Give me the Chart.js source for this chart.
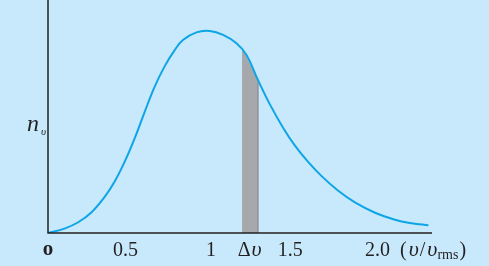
<!DOCTYPE html>
<html>
<head>
<meta charset="utf-8">
<script src="https://cdn.jsdelivr.net/npm/chart.js@4"></script>
<style>
  html, body { margin: 0; padding: 0; background: #c7e9fb; }
  #wrap { width: 489px; height: 266px; position: relative; }
</style>
</head>
<body>
<div id="wrap"><canvas id="chart"></canvas></div>
<script>
// speed (v / v_rms) and relative number n_v
const speeds = [0, 0.100, 0.181, 0.263, 0.343, 0.404, 0.465, 0.526, 0.587, 0.647, 0.707,
    0.769, 0.819, 0.901, 0.982, 1.063, 1.144, 1.205, 1.275, 1.347, 1.427, 1.498, 1.579, 1.661,
    1.762, 1.863, 1.985, 2.106, 2.208, 2.309];
const counts = [0, 0.019, 0.045, 0.088, 0.154, 0.220, 0.305, 0.406, 0.520, 0.627, 0.714,
    0.785, 0.828, 0.861, 0.867, 0.850, 0.814, 0.764, 0.656, 0.552, 0.452, 0.376, 0.305, 0.244,
    0.181, 0.131, 0.087, 0.057, 0.042, 0.033];

// the shaded slice dv
const sliceSpeeds = [1.178, 1.225, 1.275];
const sliceCounts = [0.794, 0.728, 0.656];

// tick labels along the speed axis
const tickAt = [0, 0.47, 0.99, 1.47, 2.0];
const tickLabels = ['o', '0.5', '1', '1.5', '2.0'];
const deltaAt = 1.23;

function toPoints(xs, ys) {
    return xs.map(function(x, i) { return { x: x, y: ys[i] }; });
}

const axesPlugin = {
    id: 'axes',
    afterDatasetsDraw: function(chart) {
        const ctx = chart.ctx;
        const area = chart.chartArea;
        const xs = chart.scales.x;
        const ys = chart.scales.y;
        ctx.save();

        // darker right edge of the slice
        const sx = xs.getPixelForValue(sliceSpeeds[sliceSpeeds.length - 1]);
        ctx.strokeStyle = '#7d7f83';
        ctx.lineWidth = 1;
        ctx.beginPath();
        ctx.moveTo(sx, ys.getPixelForValue(sliceCounts[sliceCounts.length - 1]) + 2);
        ctx.lineTo(sx, area.bottom);
        ctx.stroke();

        ctx.strokeStyle = '#231f20';
        ctx.lineWidth = 1.5;
        ctx.beginPath();
        ctx.moveTo(area.left, area.top);
        ctx.lineTo(area.left, area.bottom);
        ctx.lineTo(area.right, area.bottom);
        ctx.stroke();

        ctx.fillStyle = '#231f20';
        ctx.textAlign = 'center';
        ctx.textBaseline = 'alphabetic';
        const base = area.bottom + 23;
        tickAt.forEach(function(v, i) {
            ctx.font = i === 0 ? 'bold 21px "Liberation Serif"' : '20px "Liberation Serif"';
            ctx.fillText(tickLabels[i], xs.getPixelForValue(v), i === 0 ? base - 1 : base);
        });

        // delta v
        ctx.font = '20px "Liberation Serif"';
        ctx.textAlign = 'left';
        let x = xs.getPixelForValue(deltaAt) - 13;
        ctx.fillText('\u0394', x, base);
        x += ctx.measureText('\u0394').width + 1;
        ctx.font = 'italic 22px "Liberation Serif"';
        ctx.fillText('\u03c5', x, base);

        // (v / v_rms)
        x = 400;
        ctx.font = '20px "Liberation Serif"';
        ctx.fillText('(', x, base);
        x += ctx.measureText('(').width + 2;
        ctx.font = 'italic 22px "Liberation Serif"';
        ctx.fillText('\u03c5', x, base);
        x += ctx.measureText('\u03c5').width + 1;
        ctx.font = '20px "Liberation Serif"';
        ctx.fillText('/', x, base);
        x += ctx.measureText('/').width + 2;
        ctx.font = 'italic 22px "Liberation Serif"';
        ctx.fillText('\u03c5', x, base);
        x += ctx.measureText('\u03c5').width;
        ctx.font = '14px "Liberation Serif"';
        ctx.fillText('rms', x, base + 3);
        x += ctx.measureText('rms').width + 1;
        ctx.font = '20px "Liberation Serif"';
        ctx.fillText(')', x, base);

        // n_v
        ctx.font = 'italic 24px "Liberation Serif"';
        ctx.fillText('n', 27, 131);
        ctx.font = 'italic 11px "Liberation Serif"';
        ctx.fillText('\u03c5', 41, 135);
        ctx.restore();
    }
};

const ctx = document.getElementById('chart').getContext('2d');
const chart = new Chart(ctx, {
    type: 'scatter',
    data: {
        datasets: [{
            label: 'n_v',
            data: toPoints(speeds, counts),
            showLine: true,
            borderColor: '#0ea5e6',
            borderWidth: 2,
            pointRadius: 0,
            tension: 0.4,
            fill: false,
            order: 1
        }, {
            label: 'dv',
            data: toPoints(sliceSpeeds, sliceCounts),
            showLine: true,
            borderColor: 'rgba(0,0,0,0)',
            borderWidth: 0,
            backgroundColor: '#a7a8ab',
            pointRadius: 0,
            tension: 0.3,
            fill: 'origin',
            order: 2
        }]
    },
    options: {
        responsive: true,
        maintainAspectRatio: false,
        animation: false,
        layout: {
            padding: { left: 48, right: 57, top: 0, bottom: 33 }
        },
        plugins: {
            legend: { display: false },
            tooltip: { enabled: false }
        },
        scales: {
            x: { type: 'linear', display: false, min: 0, max: 2.331 },
            y: { type: 'linear', display: false, min: 0, max: 1 }
        }
    },
    plugins: [axesPlugin]
});
</script>
</body>
</html>
